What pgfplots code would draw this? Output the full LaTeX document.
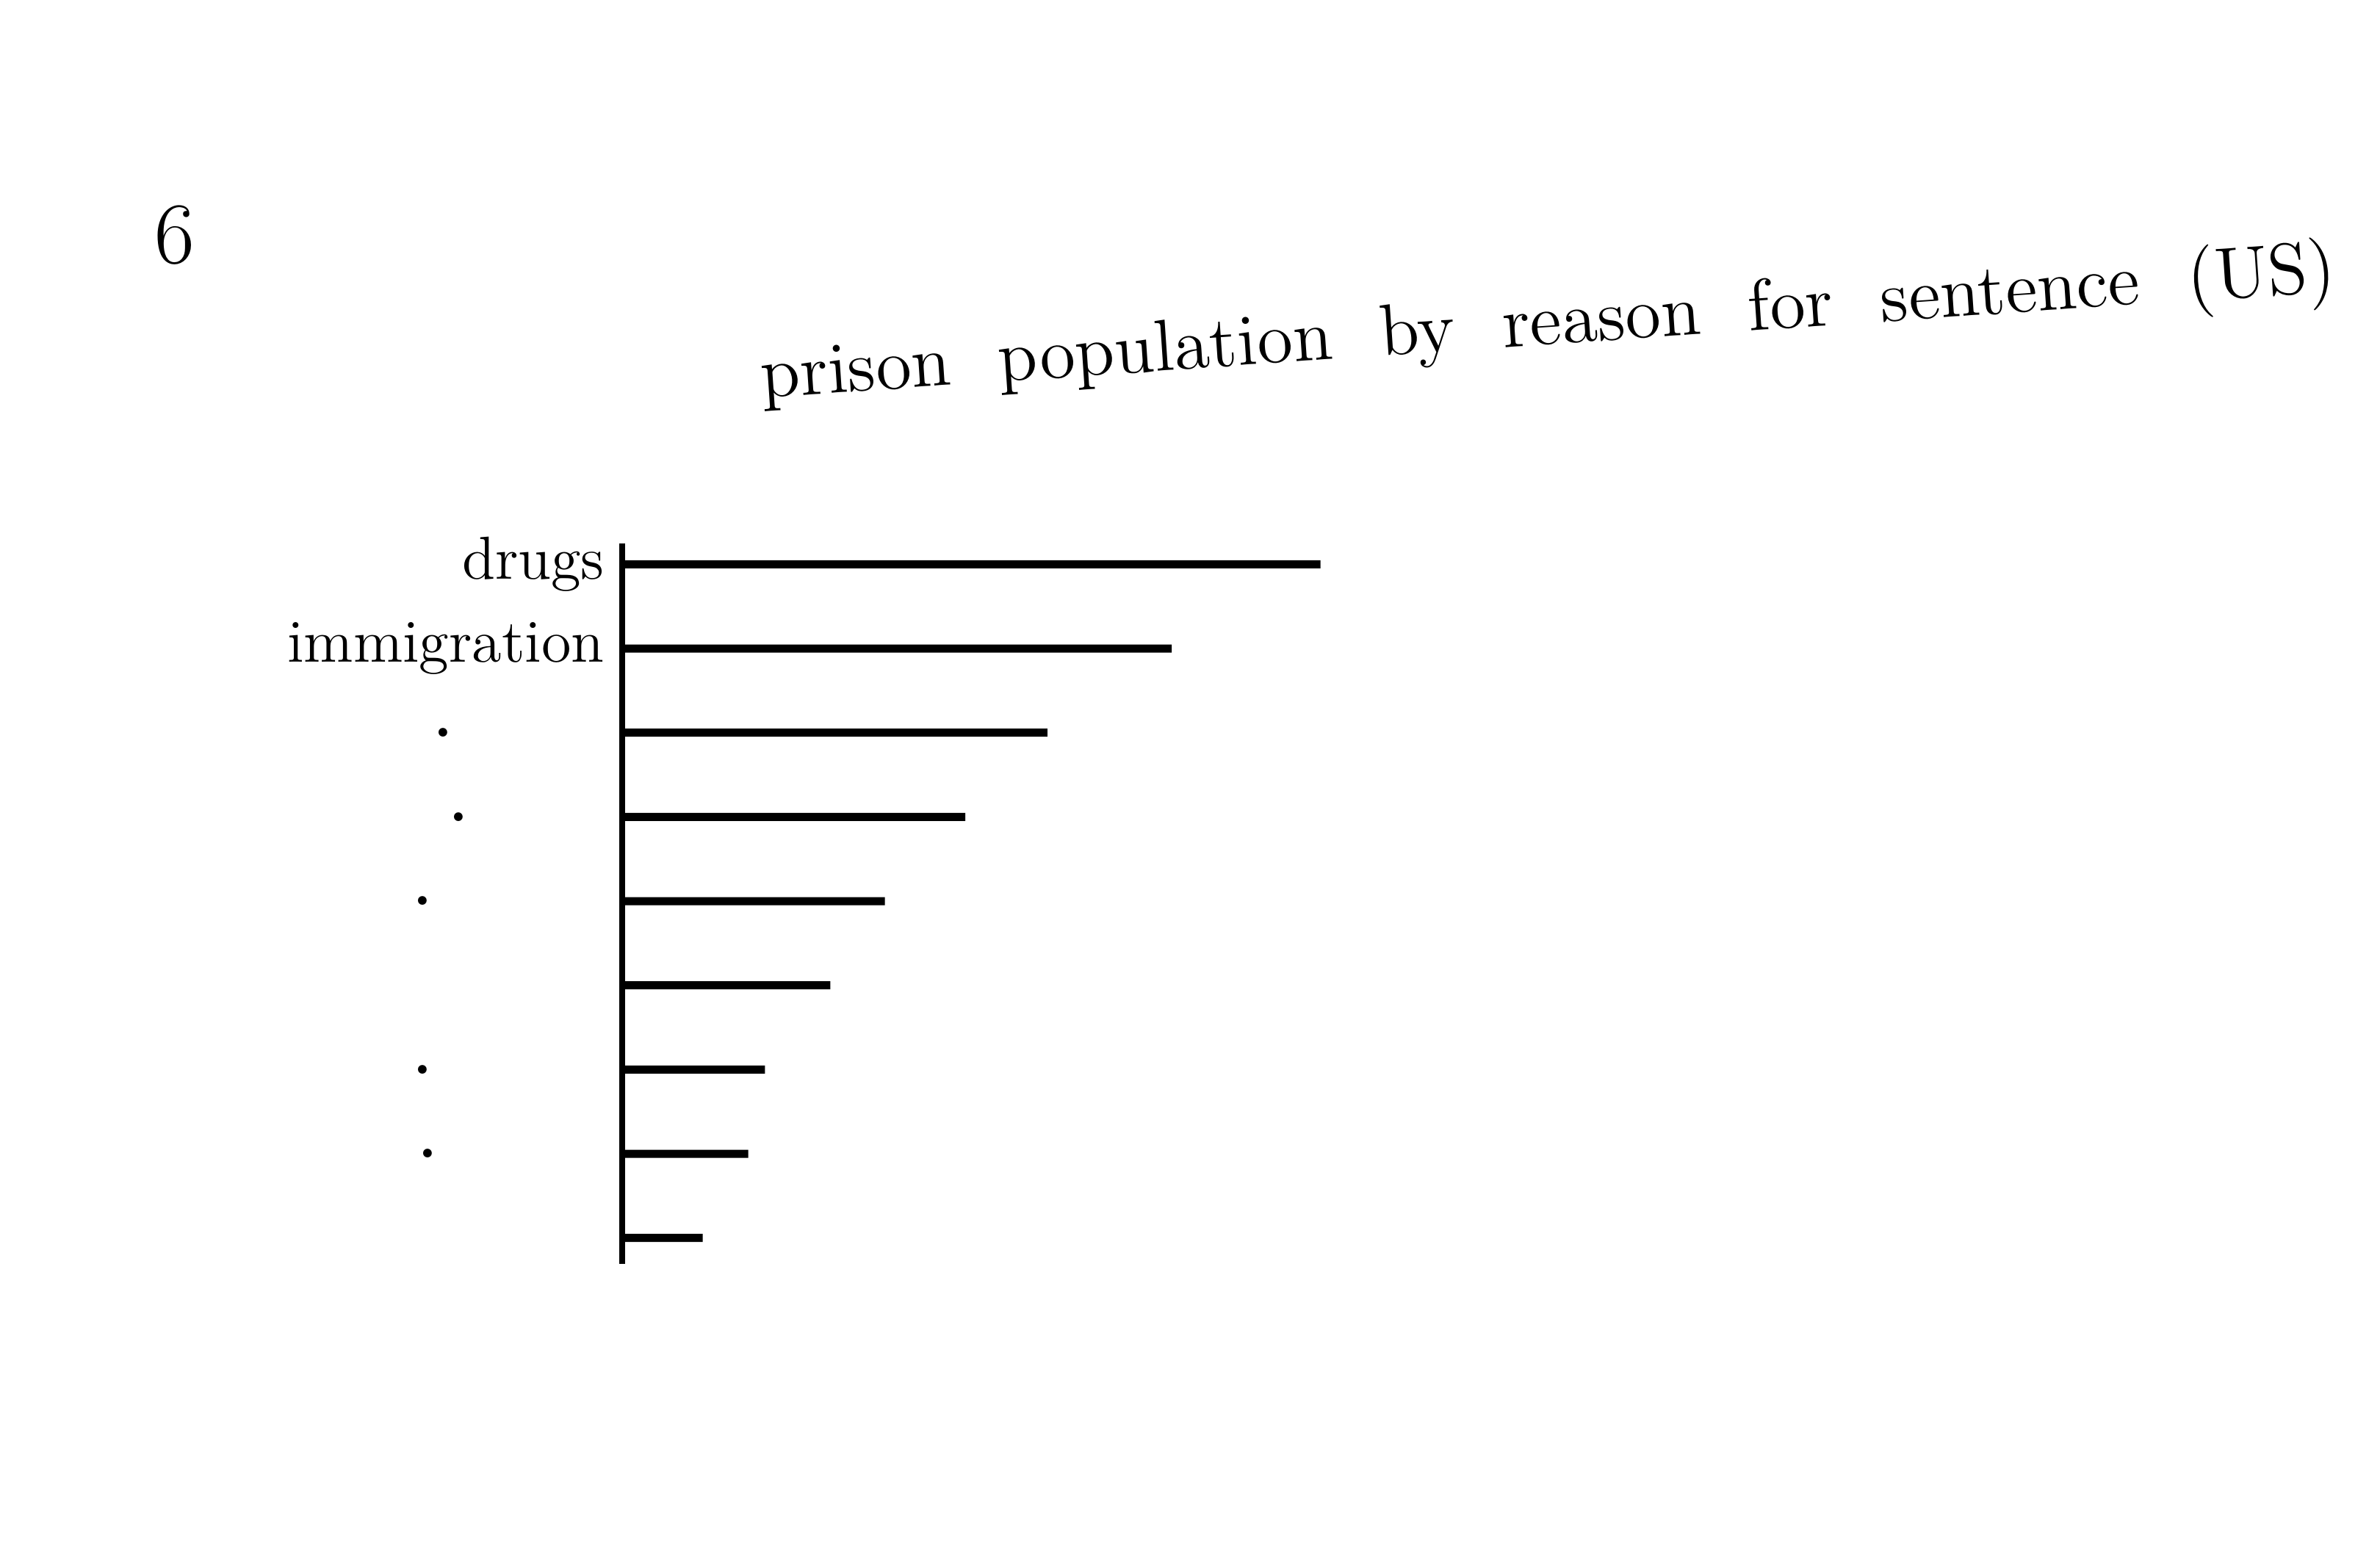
\documentclass[border=0pt]{standalone}
\usepackage{pgfplots}
\pgfplotsset{compat=1.18}
\newcommand{\dotlab}[1]{\textbf{.}\rule{#1}{0pt}}
\begin{document}
\begin{tikzpicture}
\useasboundingbox (0,0) rectangle (470.4pt,309.3pt);
\fill[white] (0,0) rectangle (470.4pt,309.3pt);
\node[font=\LARGE] at (34.5pt,262.8pt) {6};
\node[font=\Large, rotate=3.9] at (306pt,244.8pt) {prison\ \ population\ \ by\ \ reason\ \ for\ \ sentence\ \ (US)};
\begin{axis}[
  at={(123pt,201.9pt)}, anchor=north west,
  scale only axis,
  width=141pt, height=142.5pt,
  xmin=0, xmax=47,
  ymin=0.75, ymax=9.31,
  y dir=reverse,
  axis x line=none,
  axis y line*=left,
  y axis line style={line width=1.2pt},
  xtick=\empty,
  ytick={1,2,3,4,5,6,7,8,9},
  yticklabels={drugs, immigration, \dotlab{30pt}, \dotlab{27pt}, \dotlab{34pt}, , \dotlab{34pt}, \dotlab{33pt}, },
  yticklabel style={font=\large},
  major tick length=0pt,
  xbar, bar width=1.6pt, bar shift=0pt,
]
\addplot[fill=black, draw=none] coordinates {
  (46,1) (36.2,2) (28,3) (22.6,4) (17.3,5) (13.7,6) (9.4,7) (8.3,8) (5.3,9)
};
\end{axis}
\end{tikzpicture}
\end{document}
